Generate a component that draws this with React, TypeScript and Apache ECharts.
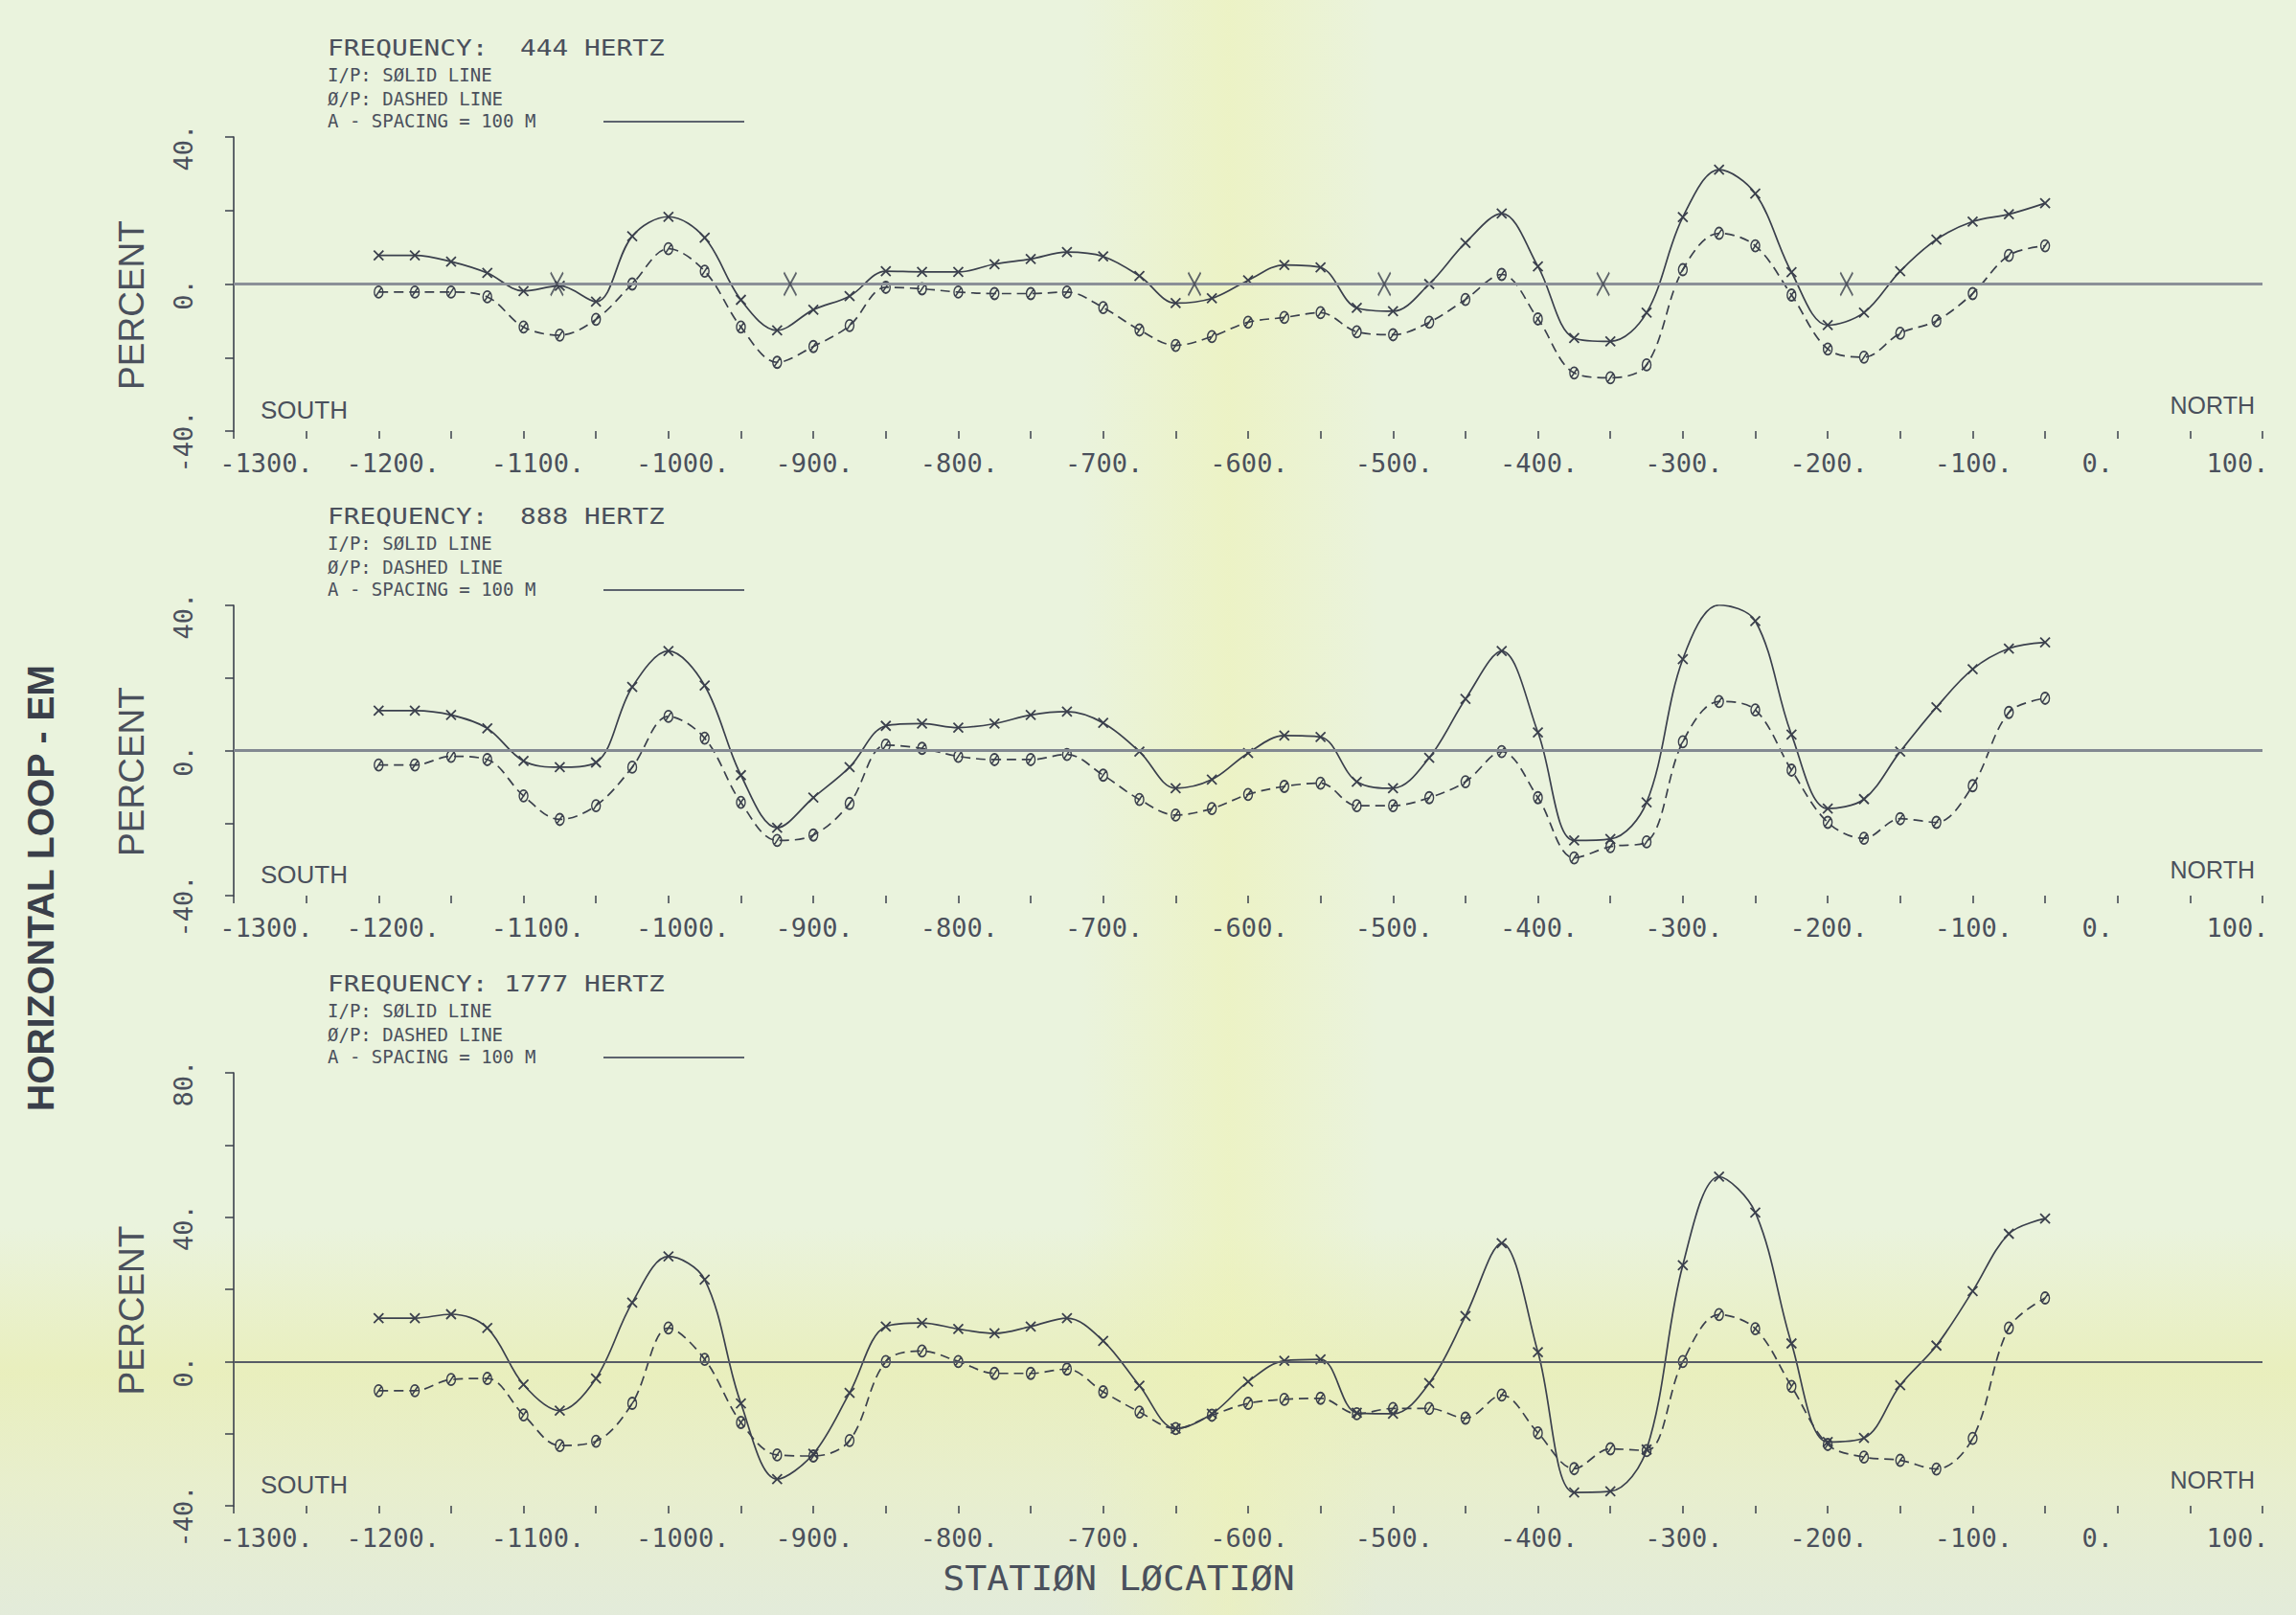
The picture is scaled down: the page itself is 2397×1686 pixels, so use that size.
import React, { useEffect, useRef } from 'react';
import * as echarts from 'echarts';

// ---------------- DATA ----------------
const stations = [
  -1200, -1175, -1150, -1125, -1100, -1075, -1050, -1025, -1000, -975, -950, -925,
  -900, -875, -850, -825, -800, -775, -750, -725, -700, -675, -650, -625, -600,
  -575, -550, -525, -500, -475, -450, -425, -400, -375, -350, -325, -300, -275,
  -250, -225, -200, -175, -150, -125, -100, -75, -50,
];

// 444 Hz
const ip444 = [
  7.8, 7.8, 6.1, 3.0, -1.9, -0.5, -4.8, 13.0, 18.3, 12.6, -4.3, -12.6,
  -7.0, -3.3, 3.5, 3.3, 3.3, 5.4, 6.8, 8.7, 7.5, 2.2, -5.2, -3.9, 1.0,
  5.2, 4.5, -6.5, -7.4, 0.0, 11.2, 19.2, 4.8, -14.7, -15.6, -7.8, 18.2, 31.1,
  24.6, 3.2, -11.2, -7.8, 3.5, 12.1, 17.0, 19.0, 22.0,
];
const op444 = [
  -2.2, -2.2, -2.2, -3.5, -11.7, -13.9, -9.6, 0.0, 9.6, 3.5, -11.7, -21.3,
  -17.0, -11.3, -0.9, -1.3, -2.2, -2.6, -2.6, -2.2, -6.4, -12.5, -16.7, -14.3, -10.4,
  -9.1, -7.8, -13.0, -13.8, -10.4, -4.2, 2.6, -9.5, -24.2, -25.5, -22.0, 3.9, 13.8,
  10.4, -3.0, -17.7, -19.9, -13.4, -10.0, -2.6, 7.8, 10.4,
];
const conductorAxes444 = [-1077, -916, -637, -506, -355, -187];

// 888 Hz
const ip888 = [
  11.0, 11.0, 9.8, 6.1, -2.9, -4.6, -3.3, 17.5, 27.4, 17.9, -6.8, -21.3,
  -13.0, -4.6, 6.8, 7.4, 6.3, 7.4, 9.8, 10.7, 7.6, -0.3, -10.4, -8.0, -0.7,
  4.1, 3.7, -8.6, -10.4, -2.0, 14.2, 27.4, 5.0, -24.8, -24.4, -14.3, 25.2, 40.1,
  35.7, 4.4, -16.0, -13.4, -0.3, 11.9, 22.4, 28.1, 29.8,
];
const op888 = [
  -4.0, -4.0, -1.6, -2.5, -12.5, -19.0, -15.2, -4.6, 9.4, 3.4, -14.3, -24.8,
  -23.3, -14.6, 1.5, 0.6, -1.6, -2.5, -2.5, -1.1, -6.8, -13.5, -17.8, -16.0, -12.1,
  -9.9, -9.0, -15.2, -15.2, -13.0, -8.6, -0.3, -13.0, -29.6, -26.5, -25.2, 2.4, 13.5,
  11.2, -5.4, -19.8, -24.2, -18.8, -19.8, -9.7, 10.5, 14.4,
];

// 1777 Hz
const ip1777 = [
  12.0, 12.0, 13.1, 9.3, -6.4, -13.6, -4.7, 16.3, 29.1, 22.7, -11.6, -32.6,
  -25.6, -8.7, 9.7, 10.7, 9.0, 7.8, 9.7, 12.0, 5.7, -6.7, -18.6, -14.5, -5.6,
  0.2, 0.6, -14.2, -14.5, -6.0, 12.6, 32.8, 2.6, -36.3, -36.0, -24.4, 26.7, 51.2,
  41.3, 5.0, -22.3, -21.2, -6.6, 4.4, 19.5, 35.4, 39.6,
];
const op1777 = [
  -8.1, -8.1, -5.0, -4.7, -14.8, -23.3, -22.1, -11.6, 9.3, 0.6, -16.9, -25.9,
  -26.2, -21.9, 0.0, 2.9, 0.0, -3.3, -3.3, -2.1, -8.4, -14.0, -18.6, -14.9, -11.6,
  -10.5, -10.2, -14.5, -13.0, -13.0, -15.7, -9.3, -19.8, -29.7, -24.2, -24.7, 0.0, 13.0,
  9.1, -6.9, -23.0, -26.5, -27.4, -29.8, -21.3, 9.3, 17.6,
];

const frequencies = ['444', '888', '1777'];
const yRanges = [
  [-40, 40],
  [-40, 40],
  [-40, 80],
];
const xRange = [-1300, 100];

// ---------------- STYLE / LAYOUT ----------------
const INK = '#3b404d';
const TEXT = '#4a505c';
const MONO = '"DejaVu Sans Mono", monospace';
const SANS = '"Liberation Sans", Arial, sans-serif';
const TICK_FONT = 27;

const GRID_LEFT = 244;
const GRID_W = 2118;
const layout = [
  { top: 143, height: 307, zeroColor: '#8b9098', zeroWidth: 3 },
  { top: 632, height: 303, zeroColor: '#838991', zeroWidth: 3 },
  { top: 1120, height: 452, zeroColor: '#575c66', zeroWidth: 2 },
];

const X_MARK = 'path://M0,0L10,10M10,0L0,10';
const O_MARK = 'path://M5,0C7.8,0 10,3.1 10,7C10,10.9 7.8,14 5,14C2.2,14 0,10.9 0,7C0,3.1 2.2,0 5,0ZM1.5,12.5L8.5,1.5';
const BIG_X = 'path://M0,0C4,7 8,13 12,20M12,0C8,7 4,13 0,20';

const ipSeries = [ip444, ip888, ip1777];
const opSeries = [op444, op888, op1777];

const tickStyle = (padding: number[]) => ({
  fontFamily: MONO,
  fontSize: TICK_FONT,
  color: TEXT,
  padding,
});

// plotter-style label placement (shift per label length)
function xLabel(v: number) {
  if (v % 100 !== 0) return '';
  const s = `${v}.`;
  if (v === xRange[0]) return `{a|${s}}`;
  if (v === xRange[1]) return `{e|${s}}`;
  if (v === 0) return `{d|${s}}`;
  if (s.length >= 6) return `{b|${s}}`;
  return `{c|${s}}`;
}

function buildOption() {
  const grid = layout.map((p) => ({ left: GRID_LEFT, top: p.top, width: GRID_W, height: p.height }));
  const xAxis = layout.map((_, i) => ({
    type: 'value',
    gridIndex: i,
    min: xRange[0],
    max: xRange[1],
    interval: 50,
    axisLine: { show: false, onZero: false },
    axisTick: { show: true, length: 8, lineStyle: { color: INK, width: 1.5 } },
    splitLine: { show: false },
    axisLabel: {
      formatter: xLabel,
      fontFamily: MONO,
      fontSize: TICK_FONT,
      color: TEXT,
      margin: 20,
      rich: {
        a: tickStyle([0, 0, 0, 68]),
        b: tickStyle([0, 0, 0, 30]),
        c: tickStyle([0, 0, 0, 2]),
        d: tickStyle([0, 42, 0, 0]),
        e: tickStyle([0, 52, 0, 0]),
      },
    },
  }));
  const yAxis = layout.map((_, i) => ({
    type: 'value',
    gridIndex: i,
    min: yRanges[i][0],
    max: yRanges[i][1],
    interval: 20,
    axisLine: { show: true, onZero: false, lineStyle: { color: INK, width: 1.6 } },
    axisTick: { show: true, length: 9, lineStyle: { color: INK, width: 1.5 } },
    splitLine: { show: false },
    axisLabel: {
      rotate: 90,
      formatter: (v: number) => (v % 40 === 0 ? `${v}.` : ''),
      fontFamily: MONO,
      fontSize: TICK_FONT,
      color: TEXT,
      margin: 39,
      padding: [0, 22, 0, 0],
    },
    name: 'PERCENT',
    nameLocation: 'middle',
    nameRotate: 90,
    nameGap: 88,
    nameTextStyle: { fontFamily: SANS, fontSize: 37, color: TEXT, padding: [0, 44, 0, 0] },
  }));

  const series: any[] = [];
  layout.forEach((p, i) => {
    series.push({
      type: 'line',
      name: `I/P ${frequencies[i]}`,
      xAxisIndex: i,
      yAxisIndex: i,
      data: stations.map((s, k) => [s, ipSeries[i][k]]),
      smooth: 0.35,
      symbol: X_MARK,
      symbolSize: [10, 10],
      showAllSymbol: true,
      lineStyle: { color: INK, width: 1.7 },
      itemStyle: { color: 'rgba(0,0,0,0)', borderColor: INK, borderWidth: 1.8 },
      z: 4,
      markLine: {
        silent: true,
        symbol: ['none', 'none'],
        label: { show: false },
        lineStyle: { color: p.zeroColor, width: p.zeroWidth, type: 'solid' },
        data: [{ yAxis: 0 }],
      },
    });
    series.push({
      type: 'line',
      name: `O/P ${frequencies[i]}`,
      xAxisIndex: i,
      yAxisIndex: i,
      data: stations.map((s, k) => [s, opSeries[i][k]]),
      smooth: 0.35,
      symbol: O_MARK,
      symbolSize: [9, 12],
      showAllSymbol: true,
      lineStyle: { color: INK, width: 1.7, type: [10, 6] },
      itemStyle: { color: 'rgba(0,0,0,0)', borderColor: INK, borderWidth: 1.6 },
      z: 4,
    });
  });
  series.push({
    type: 'scatter',
    name: 'conductor axes',
    xAxisIndex: 0,
    yAxisIndex: 0,
    data: conductorAxes444.map((x) => [x, 0]),
    symbol: BIG_X,
    symbolSize: [13, 24],
    itemStyle: { color: 'rgba(0,0,0,0)', borderColor: INK, borderWidth: 2 },
    z: 5,
  });

  const graphic: any[] = [];
  layout.forEach((p, i) => {
    const f = frequencies[i];
    const bottom = p.top + p.height;
    graphic.push({
      type: 'text', x: 342, y: p.top - 93, scaleX: 1.21, z: 10,
      style: { text: `FREQUENCY: ${f.padStart(4, '\u00a0')} HERTZ`, font: `23px ${MONO}`, fill: TEXT, textVerticalAlign: 'middle' },
    });
    graphic.push({
      type: 'text', x: 342, y: p.top - 65.5, z: 10,
      style: { text: 'I/P: SØLID LINE', font: `19px ${MONO}`, fill: TEXT, textVerticalAlign: 'middle' },
    });
    graphic.push({
      type: 'text', x: 342, y: p.top - 40.5, z: 10,
      style: { text: 'Ø/P: DASHED LINE', font: `19px ${MONO}`, fill: TEXT, textVerticalAlign: 'middle' },
    });
    graphic.push({
      type: 'text', x: 342, y: p.top - 17, z: 10,
      style: { text: 'A - SPACING = 100 M', font: `19px ${MONO}`, fill: TEXT, textVerticalAlign: 'middle' },
    });
    graphic.push({
      type: 'line', z: 10,
      shape: { x1: 630, y1: p.top - 16, x2: 777, y2: p.top - 16 },
      style: { stroke: '#5d636e', lineWidth: 2 },
    });
    graphic.push({
      type: 'text', x: 272, y: bottom - 22, z: 10,
      style: { text: 'SOUTH', font: `26px ${SANS}`, fill: TEXT, textVerticalAlign: 'middle' },
    });
    graphic.push({
      type: 'text', x: 2354, y: bottom - 27, z: 10,
      style: { text: 'NORTH', font: `25px ${SANS}`, fill: TEXT, textAlign: 'right', textVerticalAlign: 'middle' },
    });
  });
  graphic.push({
    type: 'text', x: 42, y: 927, rotation: Math.PI / 2, z: 10,
    style: { text: 'HORIZONTAL LOOP - EM', font: `bold 39px ${SANS}`, fill: '#3a3f4a', textAlign: 'center', textVerticalAlign: 'middle' },
  });
  graphic.push({
    type: 'text', x: 1168, y: 1648, scaleX: 1.06, z: 10,
    style: { text: 'STATIØN LØCATIØN', font: `36px ${MONO}`, fill: TEXT, textAlign: 'center', textVerticalAlign: 'middle' },
  });

  return {
    animation: false,
    backgroundColor: 'transparent',
    grid,
    xAxis,
    yAxis,
    series,
    graphic,
  };
}

export default function App() {
  const ref = useRef<HTMLDivElement>(null);
  useEffect(() => {
    if (!ref.current) return;
    const chart = echarts.init(ref.current, null, { renderer: 'svg' });
    chart.setOption(buildOption() as any);
    return () => chart.dispose();
  }, []);
  return (
    <div
      ref={ref}
      style={{
        position: 'fixed',
        left: 0,
        top: 0,
        width: 2397,
        height: 1686,
        background:
          'linear-gradient(90deg, rgba(240,242,185,0) 47%, rgba(238,242,178,0.55) 53.5%, rgba(240,242,185,0) 60%),' +
          'linear-gradient(180deg, rgba(232,236,170,0) 76%, rgba(232,236,168,0.6) 85%, rgba(230,234,190,0.5) 92%, rgba(222,230,216,0.6) 100%),' +
          '#eaf3dd',
      }}
    />
  );
}
